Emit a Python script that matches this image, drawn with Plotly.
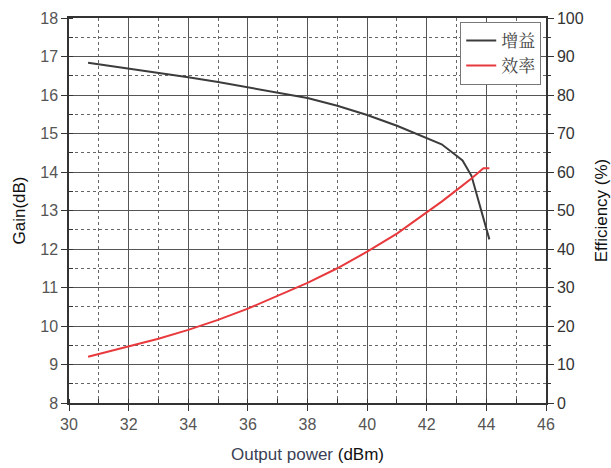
import plotly.graph_objects as go

gain_x = [30.64, 31, 32, 33, 34, 35, 36, 37, 38, 39, 40, 41, 42, 42.5, 43, 43.2, 43.5, 43.8, 44.1]
gain = [16.84, 16.8, 16.7, 16.58, 16.46, 16.34, 16.2, 16.07, 15.92, 15.72, 15.48, 15.2, 14.88, 14.72, 14.42, 14.3, 13.9, 13.1, 12.25]

eff_x = [30.64, 31, 32, 33, 34, 35, 36, 37, 38, 39, 40, 41, 42, 42.5, 43, 43.5, 43.9, 44.1]
eff = [12.0, 12.7, 14.6, 16.7, 19.0, 21.6, 24.5, 27.8, 31.2, 35.0, 39.3, 44.0, 49.4, 52.3, 55.3, 58.3, 61.0, 61.0]

names = ["增益", "效率"]
x_title = "Output power <span style='color:#111'>(dBm)</span>"
y_title = "Gain(dB)"
y2_title = "Efficiency (%)"

font_main = "Liberation Sans, Arial, sans-serif"
axis_col = "#333333"
tick_col = "#555555"

fig = go.Figure()
fig.add_trace(go.Scatter(x=gain_x, y=gain, mode="lines", name=names[0],
                         line=dict(color="#3c3c3c", width=2), yaxis="y"))
fig.add_trace(go.Scatter(x=eff_x, y=eff, mode="lines", name=names[1],
                         line=dict(color="#e8393d", width=2), yaxis="y2"))

fig.update_layout(
    width=611, height=468,
    margin=dict(l=69, r=65, t=18, b=65, autoexpand=False),
    paper_bgcolor="white", plot_bgcolor="white",
    font=dict(family=font_main, size=16, color=tick_col),
    showlegend=True,
    legend=dict(x=0.99, y=0.99, xanchor="right", yanchor="top",
                bgcolor="white", bordercolor="#777777", borderwidth=1,
                font=dict(family="Noto Serif CJK SC, Noto Sans CJK SC", size=17, color="#444444"),
                tracegroupgap=0, itemwidth=30),
    xaxis=dict(range=[30, 46], dtick=2, tick0=30, automargin=False,
               showline=True, linecolor=axis_col, linewidth=1.5, mirror=True,
               ticks="outside", ticklen=6, tickcolor=axis_col,
               showgrid=True, gridcolor="#555555", gridwidth=1,
               zeroline=False,
               minor=dict(dtick=1, tick0=30, showgrid=True, griddash="dot",
                          gridcolor="#666666", gridwidth=1,
                          ticks="inside", ticklen=4, tickcolor=axis_col),
               tickfont=dict(size=16, color=tick_col),
               title=dict(text=x_title,
                          font=dict(size=17, color="#3a3f55"), standoff=16)),
    yaxis=dict(range=[8, 18], dtick=1, tick0=8, automargin=False,
               showline=True, linecolor=axis_col, linewidth=1.5,
               ticks="outside", ticklen=6, tickcolor=axis_col,
               showgrid=True, gridcolor="#555555", gridwidth=1,
               zeroline=False,
               minor=dict(dtick=0.5, tick0=8, showgrid=True, griddash="dot",
                          gridcolor="#666666", gridwidth=1,
                          ticks="inside", ticklen=4, tickcolor=axis_col),
               tickfont=dict(size=16, color=tick_col),
               title=dict(text=y_title, font=dict(size=17, color="#111111"), standoff=10)),
    yaxis2=dict(range=[0, 100], dtick=10, tick0=0, overlaying="y", side="right",
                automargin=False,
                showline=True, linecolor=axis_col, linewidth=1.5,
                ticks="outside", ticklen=6, tickcolor=axis_col,
                showgrid=False, zeroline=False,
                minor=dict(dtick=5, ticks="outside", ticklen=3, tickcolor=axis_col),
                tickfont=dict(size=16, color="#333333"),
                title=dict(text=y2_title, font=dict(size=17, color="#111111"), standoff=12)),
)

fig.write_html("out.html")
